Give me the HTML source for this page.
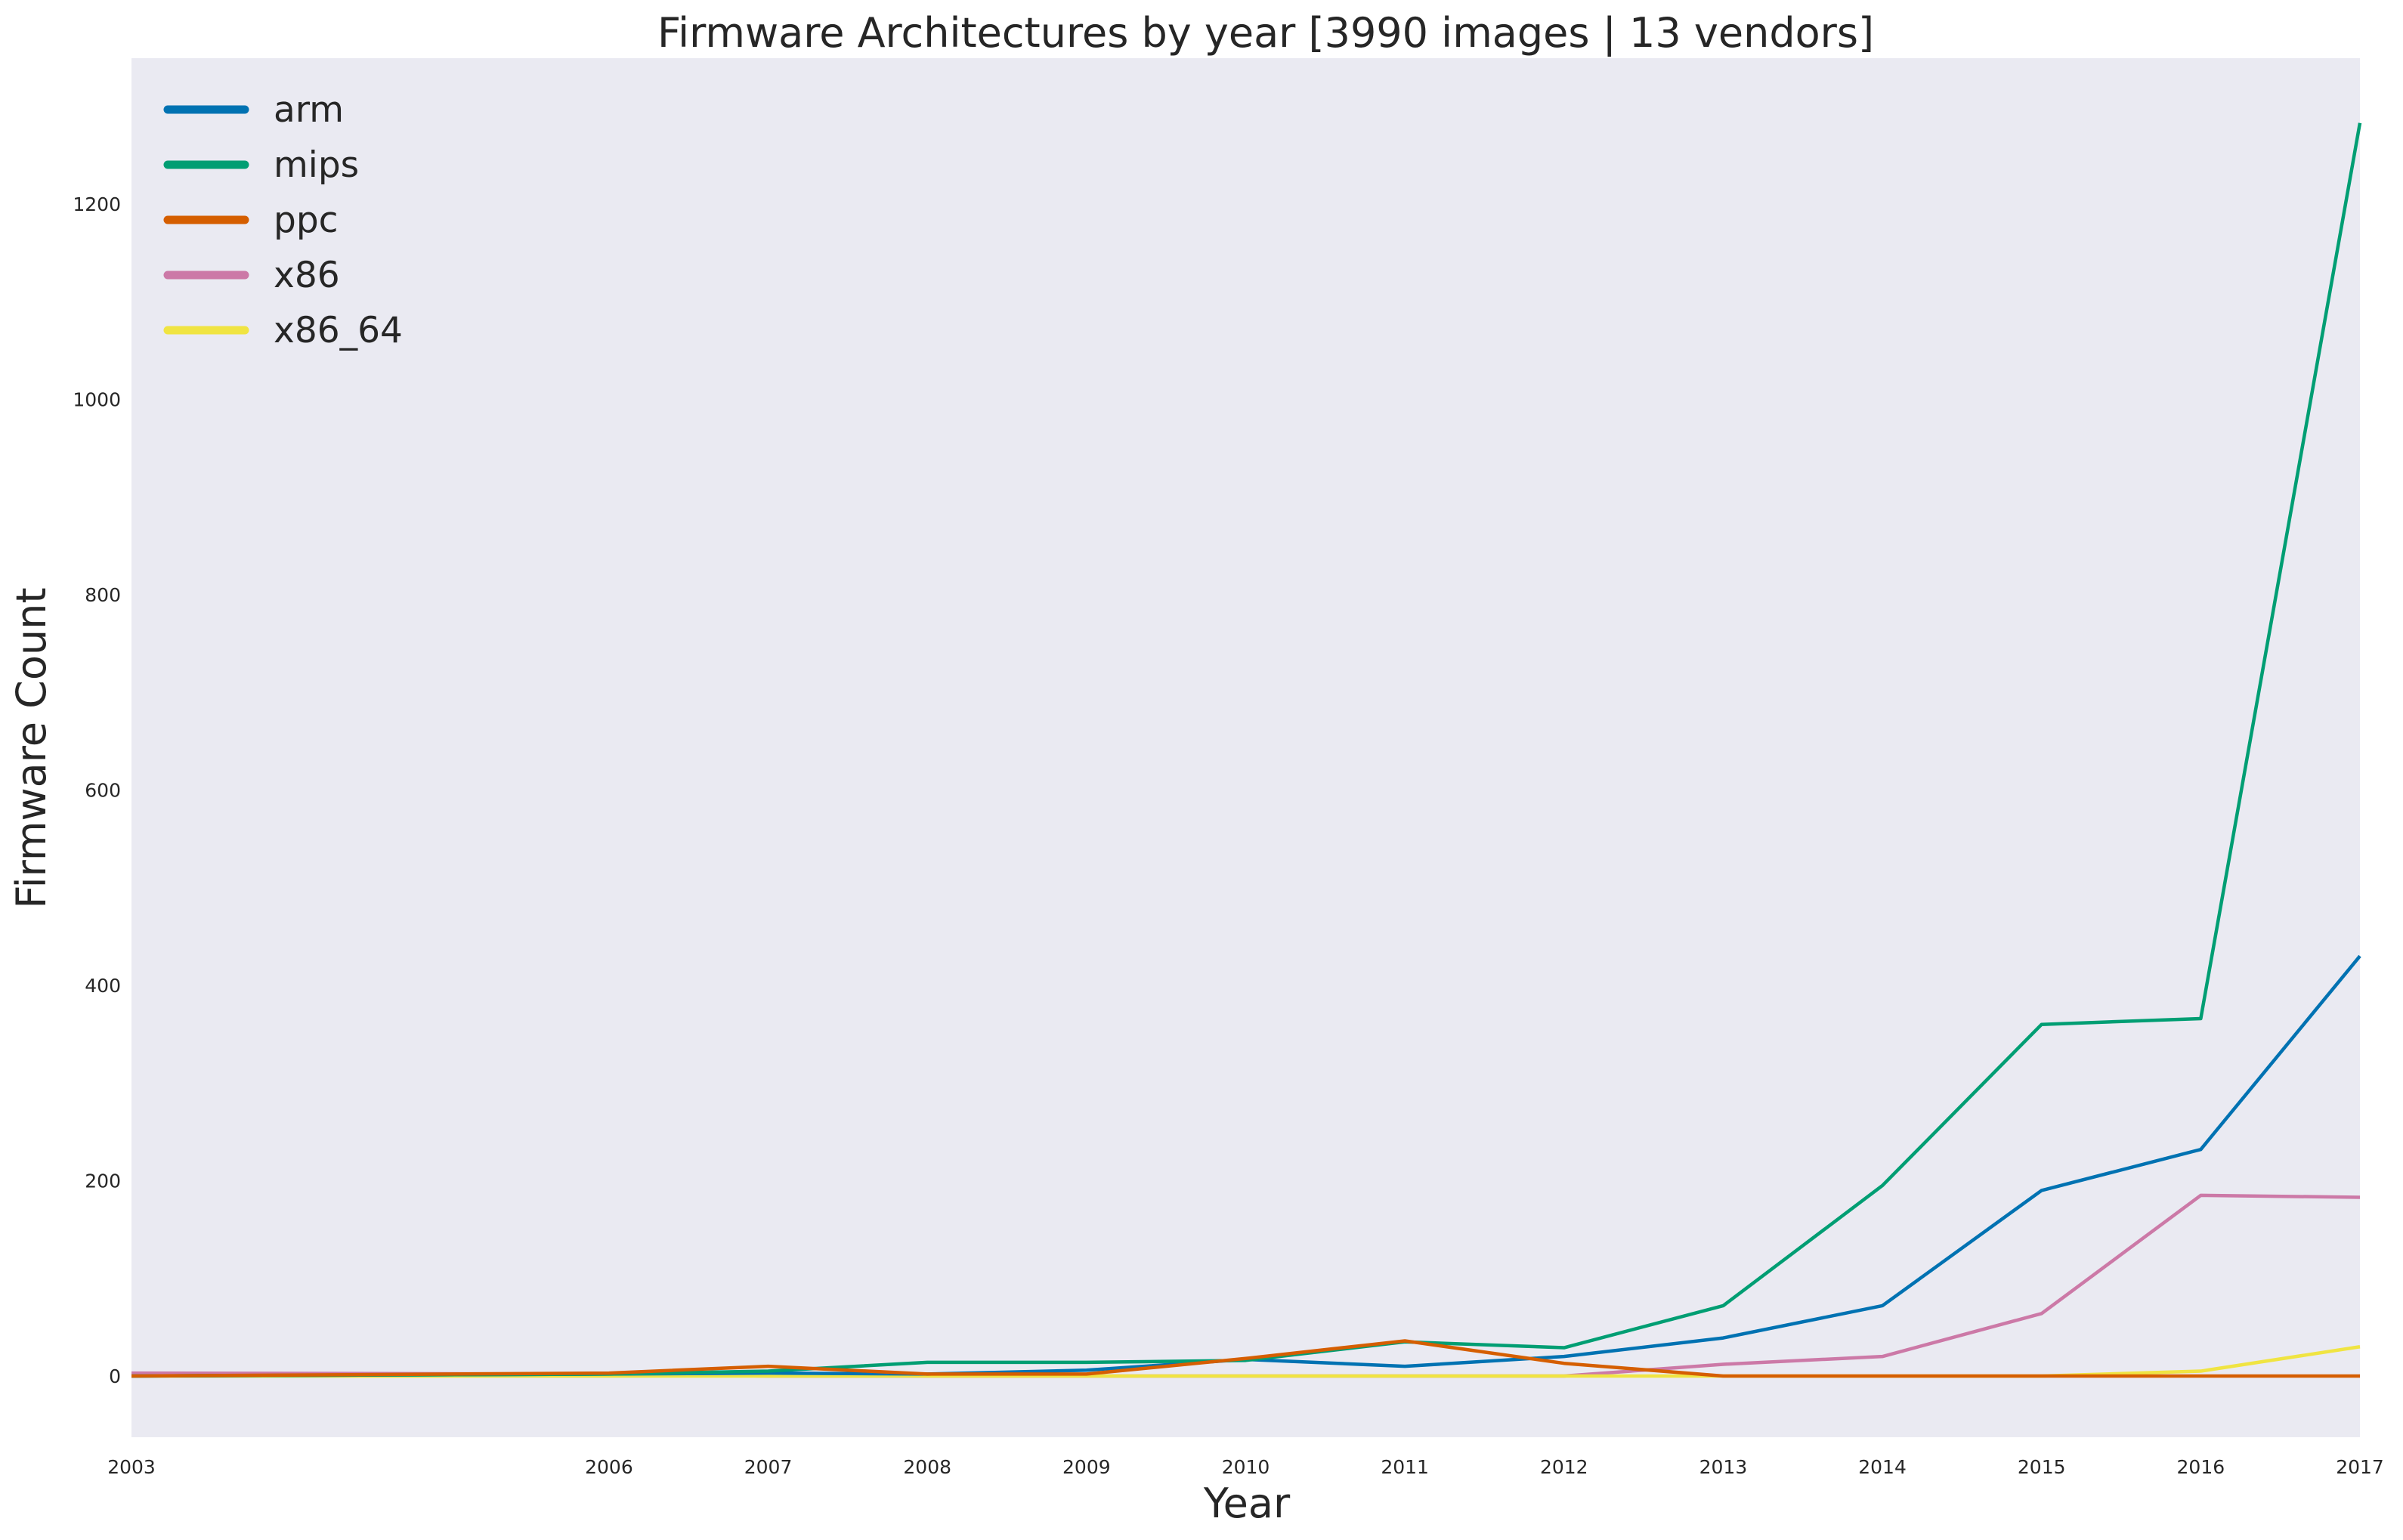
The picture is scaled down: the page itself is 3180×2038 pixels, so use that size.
<!DOCTYPE html>
<html><head><meta charset="utf-8"><style>
body{margin:0;background:#fff}
svg{display:block;font-family:"DejaVu Sans","Liberation Sans",sans-serif}
</style></head><body>
<svg id="chart" width="3180" height="2038" viewBox="0 0 3180 2038">
<rect x="174" y="77" width="2949" height="1825" fill="#eaeaf2"/>
<text x="1675" y="62" text-anchor="middle" font-size="54" fill="#262626">Firmware Architectures by year [3990 images | 13 vendors]</text>
<text x="1650" y="2008" text-anchor="middle" font-size="54" fill="#262626">Year</text>
<text transform="translate(60,990) rotate(-90)" text-anchor="middle" font-size="54" fill="#262626">Firmware Count</text>
<g id="xticks"></g><g id="yticks"></g><g id="series"></g><g id="legend"></g>
</svg>
<script>
const years = [2003,2006,2007,2008,2009,2010,2011,2012,2013,2014,2015,2016,2017];
const xTickLabels = ["2003","2006","2007","2008","2009","2010","2011","2012","2013","2014","2015","2016","2017"];
const yTickValues = [0,200,400,600,800,1000,1200];
const seriesNames = ["arm","mips","ppc","x86","x86_64"];
const armValues = [0,2,3,2,6,17,10,20,39,72,190,232,430];
const mipsValues = [0,2,5,14,14,16,35,29,72,195,360,366,1283];
const ppcValues = [0,3,10,2,2,18,36,13,0,0,0,0,0];
const x86Values = [3,2,0,0,0,0,0,0,12,20,64,185,183];
const x86_64Values = [0,0,0,0,0,0,0,0,0,0,0,5,30];
const colors = ["#0072b2","#009e73","#d55e00","#cc79a7","#f0e442"];
const NS="http://www.w3.org/2000/svg";
const X0=174,X1=3123,Y0=1821,Y1200=270;
const xs=v=>X0+(v-2003)/(2017-2003)*(X1-X0);
const ys=v=>Y0+(v/1200)*(Y1200-Y0);
const xt=document.getElementById('xticks');
years.forEach((y,i)=>{const t=document.createElementNS(NS,'text');
t.setAttribute('x',xs(y));t.setAttribute('y',1950);t.setAttribute('text-anchor','middle');t.setAttribute('font-size','25');t.setAttribute('fill','#262626');
t.textContent=xTickLabels[i];


xt.appendChild(t);});
const yt=document.getElementById('yticks');
yTickValues.forEach(v=>{const t=document.createElementNS(NS,'text');
t.setAttribute('x',160);t.setAttribute('y',ys(v)+9);t.setAttribute('text-anchor','end');t.setAttribute('font-size','25');t.setAttribute('fill','#262626');
t.textContent=v;


yt.appendChild(t);});
const all=[armValues,mipsValues,ppcValues,x86Values,x86_64Values];
const sg=document.getElementById('series');
const order=[3,4,0,1,2];
order.forEach(k=>{const vals=all[k];const p=document.createElementNS(NS,'polyline');
p.setAttribute('points',vals.map((v,i)=>xs(years[i])+','+ys(v)).join(' '));
p.setAttribute('fill','none');p.setAttribute('stroke',colors[k]);p.setAttribute('stroke-width','4.5');p.setAttribute('stroke-linejoin','round');


sg.appendChild(p);});
const lg=document.getElementById('legend');
seriesNames.forEach((n,i)=>{const y=145+i*73;
const l=document.createElementNS(NS,'line');
l.setAttribute('x1',222);l.setAttribute('x2',324);l.setAttribute('y1',y);l.setAttribute('y2',y);l.setAttribute('stroke',colors[i]);l.setAttribute('stroke-width','11');l.setAttribute('stroke-linecap','round');


lg.appendChild(l);
const t=document.createElementNS(NS,'text');
t.setAttribute('x',362);t.setAttribute('y',y+16);t.setAttribute('font-size','47');t.setAttribute('fill','#262626');t.textContent=n;


lg.appendChild(t);});
</script>
</body></html>
